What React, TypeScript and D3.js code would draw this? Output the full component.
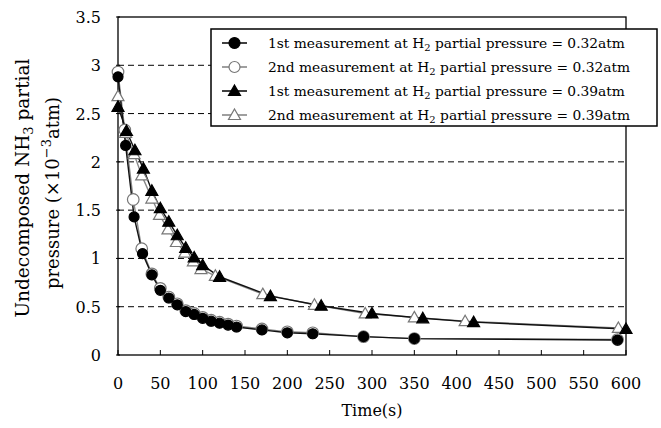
import React from "react";
import * as d3 from "d3";

const xTicks = [0, 50, 100, 150, 200, 250, 300, 350, 400, 450, 500, 550, 600];
const yTicks = [0, 0.5, 1, 1.5, 2, 2.5, 3, 3.5];

const s1t = [0, 9, 19, 29, 40, 50, 60, 70, 80, 90, 100, 110, 120, 130, 140, 170, 200, 230, 290, 350, 590];
const s1v = [2.88, 2.17, 1.43, 1.05, 0.83, 0.67, 0.59, 0.52, 0.45, 0.42, 0.38, 0.35, 0.33, 0.31, 0.29, 0.26, 0.23, 0.22, 0.19, 0.17, 0.155];

const s2t = [0, 8, 18, 28, 40, 50, 60, 70, 80, 90, 100, 110, 120, 130, 140, 170, 200, 230, 290, 350, 590];
const s2v = [2.93, 2.33, 1.61, 1.1, 0.84, 0.69, 0.6, 0.53, 0.46, 0.43, 0.39, 0.36, 0.34, 0.32, 0.3, 0.27, 0.24, 0.23, 0.19, 0.17, 0.16];

const s3t = [0, 10, 20, 30, 40, 50, 60, 70, 80, 90, 100, 120, 180, 240, 300, 360, 420, 600];
const s3v = [2.57, 2.32, 2.12, 1.93, 1.7, 1.52, 1.38, 1.24, 1.11, 1.01, 0.93, 0.81, 0.61, 0.51, 0.43, 0.38, 0.34, 0.27];

const s4t = [0, 9, 19, 28, 40, 49, 59, 69, 79, 89, 98, 115, 171, 232, 292, 350, 410, 591];
const s4v = [2.68, 2.3, 2.08, 1.86, 1.62, 1.45, 1.3, 1.17, 1.06, 0.97, 0.89, 0.82, 0.63, 0.52, 0.43, 0.39, 0.35, 0.28];

const legendLabels = [
  ["1st measurement at H", "2", " partial pressure = 0.32atm"],
  ["2nd measurement at H", "2", " partial pressure = 0.32atm"],
  ["1st measurement at H", "2", " partial pressure = 0.39atm"],
  ["2nd measurement at H", "2", " partial pressure = 0.39atm"],
];

const FONT = "'DejaVu Serif', serif";

export default function App() {
  const left = 118, right = 626, top = 17, bottom = 355;
  const x = d3.scaleLinear().domain([0, 600]).range([left, right]);
  const y = d3.scaleLinear().domain([0, 3.5]).range([bottom, top]);
  const line = d3.line<[number, number]>().x(d => x(d[0])).y(d => y(d[1]));

  const series = [
    { t: s1t, v: s1v, marker: "circle", fill: "#000", stroke: "#000", lineColor: "#111", r: 5 },
    { t: s2t, v: s2v, marker: "circle", fill: "#fff", stroke: "#777", lineColor: "#888", r: 5.8 },
    { t: s3t, v: s3v, marker: "triangle", fill: "#000", stroke: "#000", lineColor: "#111", r: 6 },
    { t: s4t, v: s4v, marker: "triangle", fill: "#fff", stroke: "#777", lineColor: "#888", r: 6 },
  ];

  const drawMarker = (kind: string, cx: number, cy: number, fill: string, stroke: string, r: number, key: any) => {
    if (kind === "circle") {
      return <circle key={key} cx={cx} cy={cy} r={r} fill={fill} stroke={stroke} strokeWidth={1.2} />;
    }
    const s = r;
    const pts = `${cx},${cy - s} ${cx + s},${cy + s * 0.75} ${cx - s},${cy + s * 0.75}`;
    return <polygon key={key} points={pts} fill={fill} stroke={stroke} strokeWidth={1.2} />;
  };

  const order = [1, 3, 0, 2];
  const legendRowsY = [43, 67, 91, 115];

  return (
    <svg width={661} height={428} style={{ position: "absolute", left: 0, top: 0, background: "#fff" }} fontFamily={FONT}>
      <rect x={0} y={0} width={661} height={428} fill="#fff" />
      {yTicks.filter(v => v > 0 && v < 3.5).map(v => (
        <line key={v} x1={left} x2={right} y1={y(v)} y2={y(v)} stroke="#000" strokeWidth={1} strokeDasharray="6,4" />
      ))}
      <rect x={left} y={top} width={right - left} height={bottom - top} fill="none" stroke="#000" strokeWidth={1.3} />
      {xTicks.map(t => (
        <line key={t} x1={x(t)} x2={x(t)} y1={bottom} y2={bottom - 5} stroke="#000" strokeWidth={1} />
      ))}
      {yTicks.map(v => (
        <line key={v} x1={left - 2} x2={left + 2} y1={y(v)} y2={y(v)} stroke="#000" strokeWidth={1} />
      ))}
      {xTicks.map(t => (
        <text key={t} x={x(t)} y={389} textAnchor="middle" fontSize={16} fill="#000">{t}</text>
      ))}
      {yTicks.map(v => (
        <text key={v} x={101} y={y(v) + 6} textAnchor="end" fontSize={16} fill="#000">{v}</text>
      ))}
      {order.map(i => {
        const s = series[i];
        const data: [number, number][] = s.t.map((t, j) => [t, s.v[j]]);
        return <path key={"l" + i} d={line(data) || ""} fill="none" stroke={s.lineColor} strokeWidth={1.4} />;
      })}
      {order.map(i => {
        const s = series[i];
        return (
          <g key={"m" + i}>
            {s.t.map((t, j) => drawMarker(s.marker, x(t), y(s.v[j]), s.fill, s.stroke, s.r, j))}
          </g>
        );
      })}
      <rect x={211} y={29} width={446} height={97} fill="#fff" stroke="#000" strokeWidth={1.5} />
      {series.map((s, i) => (
        <g key={"lg" + i}>
          <line x1={222} x2={247} y1={legendRowsY[i]} y2={legendRowsY[i]} stroke={s.lineColor} strokeWidth={1.6} />
          {drawMarker(s.marker, 234.5, legendRowsY[i], s.fill, s.stroke, s.marker === "circle" ? 5.5 : 6, "m")}
          <text x={268} y={legendRowsY[i] + 5} fontSize={13.8} fill="#000">
            {legendLabels[i][0]}
            <tspan fontSize={10} dy={3}>{legendLabels[i][1]}</tspan>
            <tspan dy={-3}>{legendLabels[i][2]}</tspan>
          </text>
        </g>
      ))}
      <text x={372} y={416} textAnchor="middle" fontSize={16} fill="#000">Time(s)</text>
      <text transform="translate(29,188) rotate(-90)" textAnchor="middle" fontSize={18.5} fill="#000">
        Undecomposed NH<tspan fontSize={13} dy={4}>3</tspan><tspan dy={-4}> partial</tspan>
      </text>
      <text transform="translate(59,193) rotate(-90)" textAnchor="middle" fontSize={18} fill="#000">
        pressure (×10<tspan fontSize={13} dy={-8}>−3</tspan><tspan dy={8}>atm)</tspan>
      </text>
    </svg>
  );
}
